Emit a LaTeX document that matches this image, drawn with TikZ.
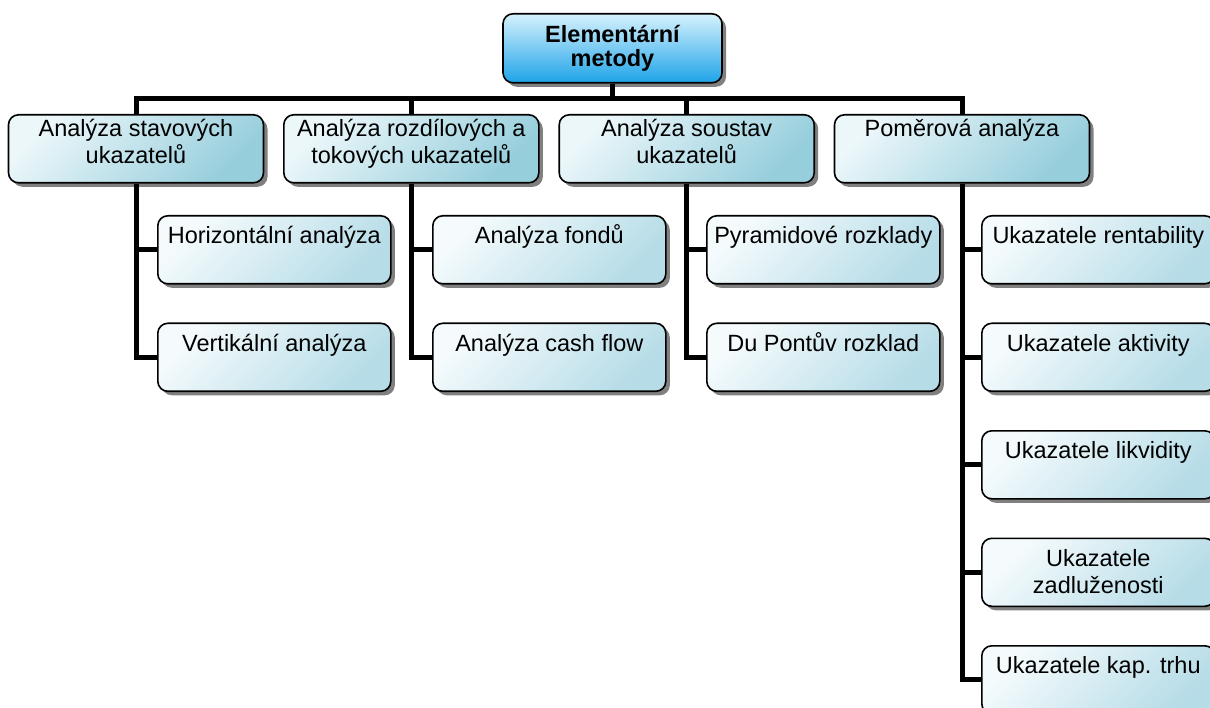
\documentclass[tikz,border=0pt]{standalone}
\usepackage{fontspec}
\setmainfont{Liberation Sans}
\usetikzlibrary{shadows}

\definecolor{topA}{RGB}{214,242,253}
\definecolor{topB}{RGB}{30,163,232}
\definecolor{catA}{RGB}{236,247,250}
\definecolor{catB}{RGB}{150,206,220}
\definecolor{leafA}{RGB}{245,251,253}
\definecolor{leafB}{RGB}{182,220,231}

% box text: width, space above, text
\newcommand{\celltext}[3]{\parbox[b][68pt][t]{#1}{\centering\vspace*{#2}\rule{0pt}{21pt}#3}}

\tikzset{
    box/.style={draw=black, line width=1.6pt, rounded corners=10pt, inner sep=0pt,
        drop shadow={shadow xshift=4pt, shadow yshift=-4pt, fill=black!50, opacity=1}},
    topbox/.style={box, anchor=north, top color=topA, bottom color=topB,
        minimum width=219pt, minimum height=69pt, align=center,
        font=\fontsize{23.5}{24}\selectfont\bfseries},
    catbox/.style={box, anchor=north, top color=catA, bottom color=catB, shading angle=45},
    leafbox/.style={box, anchor=north west, top color=leafA, bottom color=leafB, shading angle=45},
    conn/.style={line width=5pt}
}

\begin{document}
\begin{tikzpicture}[x=1pt, y=-1pt, font=\fontsize{23.5}{27}\selectfont]

    \useasboundingbox (0,0) rectangle (1210,708);
    \clip (0,0) rectangle (1210,708);

    % Top
    \node[topbox] (top) at (612.5,13) {Elementární\\metody};

    % Categories
    \node[catbox] (c1) at (136,114) {\celltext{255pt}{1pt}{Analýza stavových\\ukazatelů}};
    \node[catbox] (c2) at (411.3,114) {\celltext{255pt}{1pt}{Analýza rozdílových a\\tokových ukazatelů}};
    \node[catbox] (c3) at (686.7,114) {\celltext{255pt}{1pt}{Analýza soustav\\ukazatelů}};
    \node[catbox] (c4) at (962,114) {\celltext{255pt}{1pt}{Poměrová analýza}};

    % Leaves of c1
    \node[leafbox] (h1) at (157,215) {\celltext{233pt}{7pt}{Horizontální analýza}};
    \node[leafbox] (v1) at (157,322.5) {\celltext{233pt}{7pt}{Vertikální analýza}};

    % Leaves of c2
    \node[leafbox] (f2) at (432,215) {\celltext{233pt}{7pt}{Analýza fondů}};
    \node[leafbox] (cf2) at (432,322.5) {\celltext{233pt}{7pt}{Analýza cash flow}};

    % Leaves of c3
    \node[leafbox] (p3) at (706,215) {\celltext{233pt}{7pt}{Pyramidové rozklady}};
    \node[leafbox] (dp3) at (706,322.5) {\celltext{233pt}{7pt}{Du Pontův rozklad}};

    % Leaves of c4
    \node[leafbox] (r4) at (981,215) {\celltext{233pt}{7pt}{Ukazatele rentability}};
    \node[leafbox] (a4) at (981,322.5) {\celltext{233pt}{7pt}{Ukazatele aktivity}};
    \node[leafbox] (l4) at (981,430) {\celltext{233pt}{7pt}{Ukazatele likvidity}};
    \node[leafbox] (z4) at (981,537.5) {\celltext{233pt}{7pt}{Ukazatele\\zadluženosti}};
    \node[leafbox] (k4) at (981,645) {\celltext{233pt}{7pt}{Ukazatele kap. trhu}};

    % Connectors
    \draw[conn] (top.south) -- ++(0,15) -| (c1.north);
    \draw[conn] (top.south) -- ++(0,15) -| (c2.north);
    \draw[conn] (top.south) -- ++(0,15) -| (c3.north);
    \draw[conn] (top.south) -- ++(0,15) -| (c4.north);

    \draw[conn] (c1.south) |- (h1.west);
    \draw[conn] (c1.south) |- (v1.west);
    \draw[conn] (c2.south) |- (f2.west);
    \draw[conn] (c2.south) |- (cf2.west);
    \draw[conn] (c3.south) |- (p3.west);
    \draw[conn] (c3.south) |- (dp3.west);
    \foreach \n in {r4,a4,l4,z4,k4}
        \draw[conn] (c4.south) |- (\n.west);

\end{tikzpicture}
\end{document}
